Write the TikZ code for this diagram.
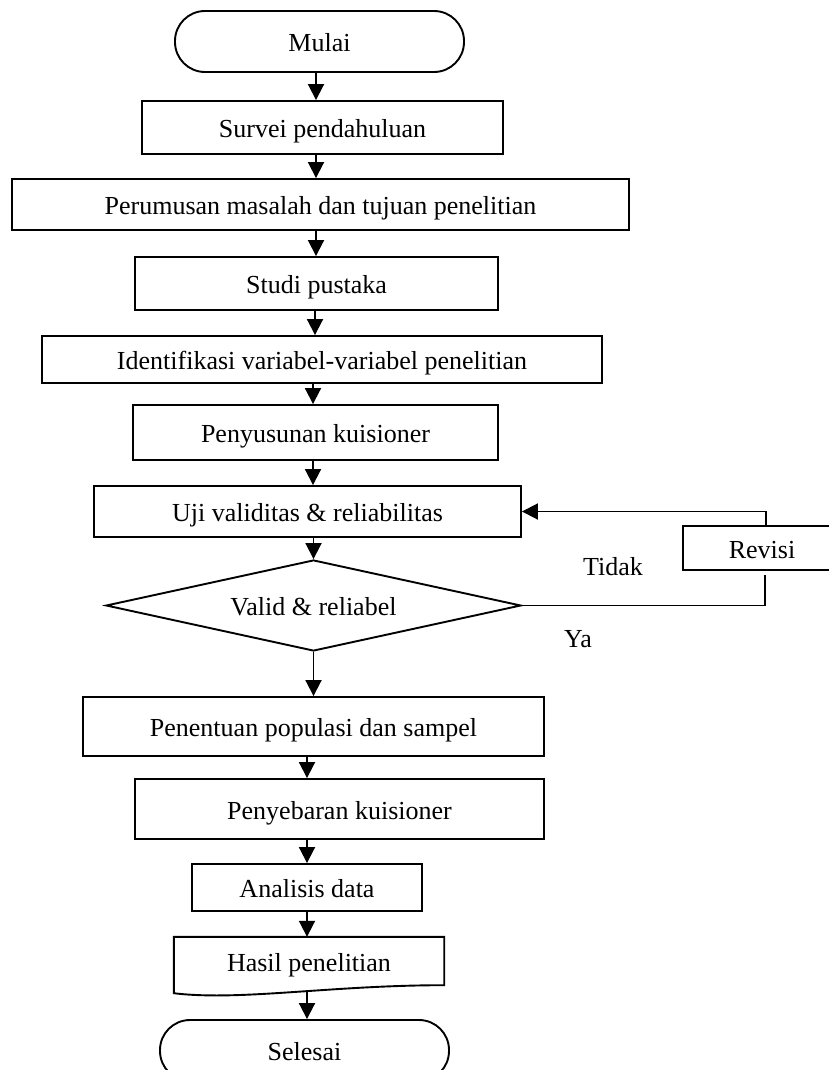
\documentclass[tikz,border=0pt]{standalone}
\usepackage{fontspec}
\setmainfont{Liberation Serif}
\usetikzlibrary{arrows.meta,shapes.geometric}
\begin{document}
\begin{tikzpicture}[x=1pt,y=-1pt,
  every node/.style={font=\fontsize{26}{30}\selectfont, inner sep=0pt, text height=20pt, text depth=0pt},
  stepbox/.style={draw, line width=1.9pt, rectangle},
  term/.style={draw, line width=1.9pt, rectangle, rounded corners=30pt},
  decision/.style={draw, line width=1.9pt, diamond, aspect=4.5},
  conn/.style={line width=1.9pt},
  arr/.style={line width=1.9pt, -{Triangle[width=16pt,length=16pt]}},
  lbl/.style={}
]
\useasboundingbox (0,0) rectangle (828,1070);

% helper x positions for arrows
\coordinate (x316) at (316,0);
\coordinate (x315) at (315,0);
\coordinate (x313) at (313,0);
\coordinate (x307) at (307,0);
\coordinate (revx) at (766,0);
\coordinate (revend) at (765,575);

\node[term, minimum width=289pt, minimum height=61pt] (mulai) at (319.5,41.5) {Mulai};
\node[stepbox, minimum width=361pt, minimum height=53pt] (survei) at (322.5,127.5) {Survei pendahuluan};
\node[stepbox, minimum width=617pt, minimum height=51pt] (perumusan) at (320.5,204.5) {Perumusan masalah dan tujuan penelitian};
\node[stepbox, minimum width=363pt, minimum height=53pt] (studi) at (316.5,283.5) {Studi pustaka};
\node[stepbox, minimum width=560pt, minimum height=47pt] (ident) at (322,359.5) {Identifikasi variabel-variabel penelitian};
\node[stepbox, minimum width=365pt, minimum height=55pt] (susun) at (315.5,432.5) {Penyusunan kuisioner};
\node[stepbox, minimum width=427pt, minimum height=51pt] (uji) at (307.5,511.5) {Uji validitas \& reliabilitas};
\node[decision, minimum width=415pt, minimum height=91pt] (dia) at (313.5,605.5) {Valid \& reliabel};
\node[stepbox, minimum width=158pt, minimum height=44pt] (rev) at (762,548) {Revisi};
\node[lbl] (tidak) at (613,565) {Tidak};
\node[lbl] (ya) at (578,637) {Ya};
\node[stepbox, minimum width=461pt, minimum height=59pt] (tentu) at (313.5,726.5) {Penentuan populasi dan sampel};
\node[stepbox, minimum width=409pt, minimum height=60pt] (sebar) at (339.5,809) {Penyebaran kuisioner};
\node[stepbox, minimum width=230pt, minimum height=47pt] (analisis) at (307,887.5) {Analisis data};
\node[minimum width=270pt, minimum height=48pt] (hasil) at (309,961) {Hasil penelitian};
\draw[conn] (hasil.north west) -- (hasil.north east) -- (hasil.south east)
  .. controls ([xshift=-114pt]hasil.south east) and ([xshift=66pt,yshift=-16pt]hasil.south west)
  .. ([yshift=-8pt]hasil.south west) -- cycle;
\coordinate (hasilbot) at (307,991);
\node[term, minimum width=289pt, minimum height=61pt] (selesai) at (304.5,1050.5) {Selesai};

% connectors
\draw[arr] (mulai.south -| x316) -- (survei.north -| x316);
\draw[arr] (survei.south -| x316) -- (perumusan.north -| x316);
\draw[arr] (perumusan.south -| x316) -- (studi.north -| x316);
\draw[arr] (studi.south -| x315) -- (ident.north -| x315);
\draw[arr] (ident.south -| x313) -- (susun.north -| x313);
\draw[arr] (susun.south -| x313) -- (uji.north -| x313);
\draw[arr] (uji.south -| dia.north) -- (dia.north);
\draw[arr] (dia.south) -- (tentu.north -| dia.south);
\draw[arr] (tentu.south -| x307) -- (sebar.north -| x307);
\draw[arr] (sebar.south -| x307) -- (analisis.north -| x307);
\draw[arr] (analisis.south -| x307) -- (hasil.north -| x307);
\draw[arr] (hasilbot) -- (selesai.north -| hasilbot);
\draw[conn] (dia.east) -| (revend);
\draw[arr] (rev.north -| revx) |- (uji.east);
\end{tikzpicture}
\end{document}
